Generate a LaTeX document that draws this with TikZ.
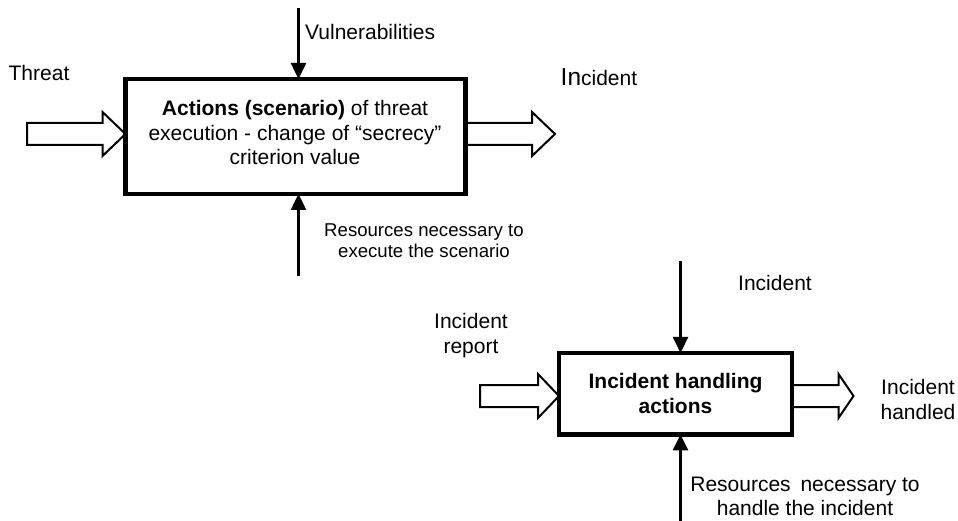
\documentclass[tikz,border=0pt]{standalone}
\usepackage{fontspec}
\setmainfont{Liberation Sans}
\usetikzlibrary{positioning,arrows.meta,calc}
\tikzset{
  lbl/.style={font=\fontsize{21}{24.5}\selectfont, inner sep=0pt, align=center},
  actbox/.style={draw, line width=4.5pt, inner sep=0pt, outer sep=0pt, align=center,
    font=\fontsize{21}{24.5}\selectfont},
  feed/.style={line width=2.5pt, -{Triangle[length=16pt,width=15pt]}},
  hollow/.style={draw, fill=white, line width=2pt, line join=miter},
}
% hollow block arrow from #1 to #2, head length #3
\newcommand{\hollowarrow}[3]{%
  \draw[hollow] ($(#1)+(0,11)$) -- ($(#2)+(-#3,11)$) -- ($(#2)+(-#3,22)$)
    -- (#2) -- ($(#2)+(-#3,-22)$) -- ($(#2)+(-#3,-11)$) -- ($(#1)+(0,-11)$) -- cycle;}
\begin{document}
\begin{tikzpicture}[x=1pt, y=-1pt]
  \useasboundingbox (0,0) rectangle (958,521);
  % threat execution
  \coordinate (thr) at (27,134);
  \coordinate (thrtip) at (125.5,134);
  \coordinate (incbase) at (465.5,134);
  \coordinate (inctip) at (555,134);
  \hollowarrow{thr}{thrtip}{23}
  \hollowarrow{incbase}{inctip}{23}
  \node[actbox, minimum width=340pt, minimum height=115pt] (act) at (295.5,136.5) {};
  \node[lbl] (acttext) at (295,132.5)
    {\textbf{Actions (scenario)} of threat\\execution - change of “secrecy”\\criterion value};
  \node[lbl] (threat) at (39,72.5) {Threat};
  \node[lbl, anchor=west] (vul) at (305,31.5) {Vulnerabilities};
  \node[lbl, anchor=west] (inc) at (560.5,77) {{\fontsize{24.5}{24.5}\selectfont In}cident};
  \node[lbl, font=\fontsize{18.6}{21}\selectfont] (res) at (424,240.5)
    {Resources necessary to\\execute the scenario};
  \coordinate (vultop) at (298.5,8);
  \coordinate (reslow) at (298.5,276);
  \draw[feed] (vultop) -- (vultop |- act.north);
  \draw[feed] (reslow) -- (reslow |- act.south);
  % incident handling
  \coordinate (rep) at (480,396);
  \coordinate (reptip) at (559,396);
  \coordinate (donebase) at (792,396);
  \coordinate (donetip) at (853.5,396);
  \hollowarrow{rep}{reptip}{21}
  \hollowarrow{donebase}{donetip}{15}
  \node[actbox, minimum width=233pt, minimum height=81.5pt] (hand) at (675.5,393.7)
    {\textbf{Incident handling}\\\textbf{actions}};
  \node[lbl] (inc2) at (775,283) {Incident};
  \node[lbl] (report) at (471,335.5) {Incident\\report};
  \node[lbl] (handled) at (918,399.5) {Incident\\handled};
  \node[lbl, font=\fontsize{21}{23.5}\selectfont] (res2) at (805,496.5)
    {Resources\hspace{4pt} necessary to\\handle the incident};
  \coordinate (inctop) at (680.5,261);
  \coordinate (res2low) at (680.5,521);
  \draw[feed] (inctop) -- (inctop |- hand.north);
  \draw[feed] (res2low) -- (res2low |- hand.south);
\end{tikzpicture}
\end{document}
